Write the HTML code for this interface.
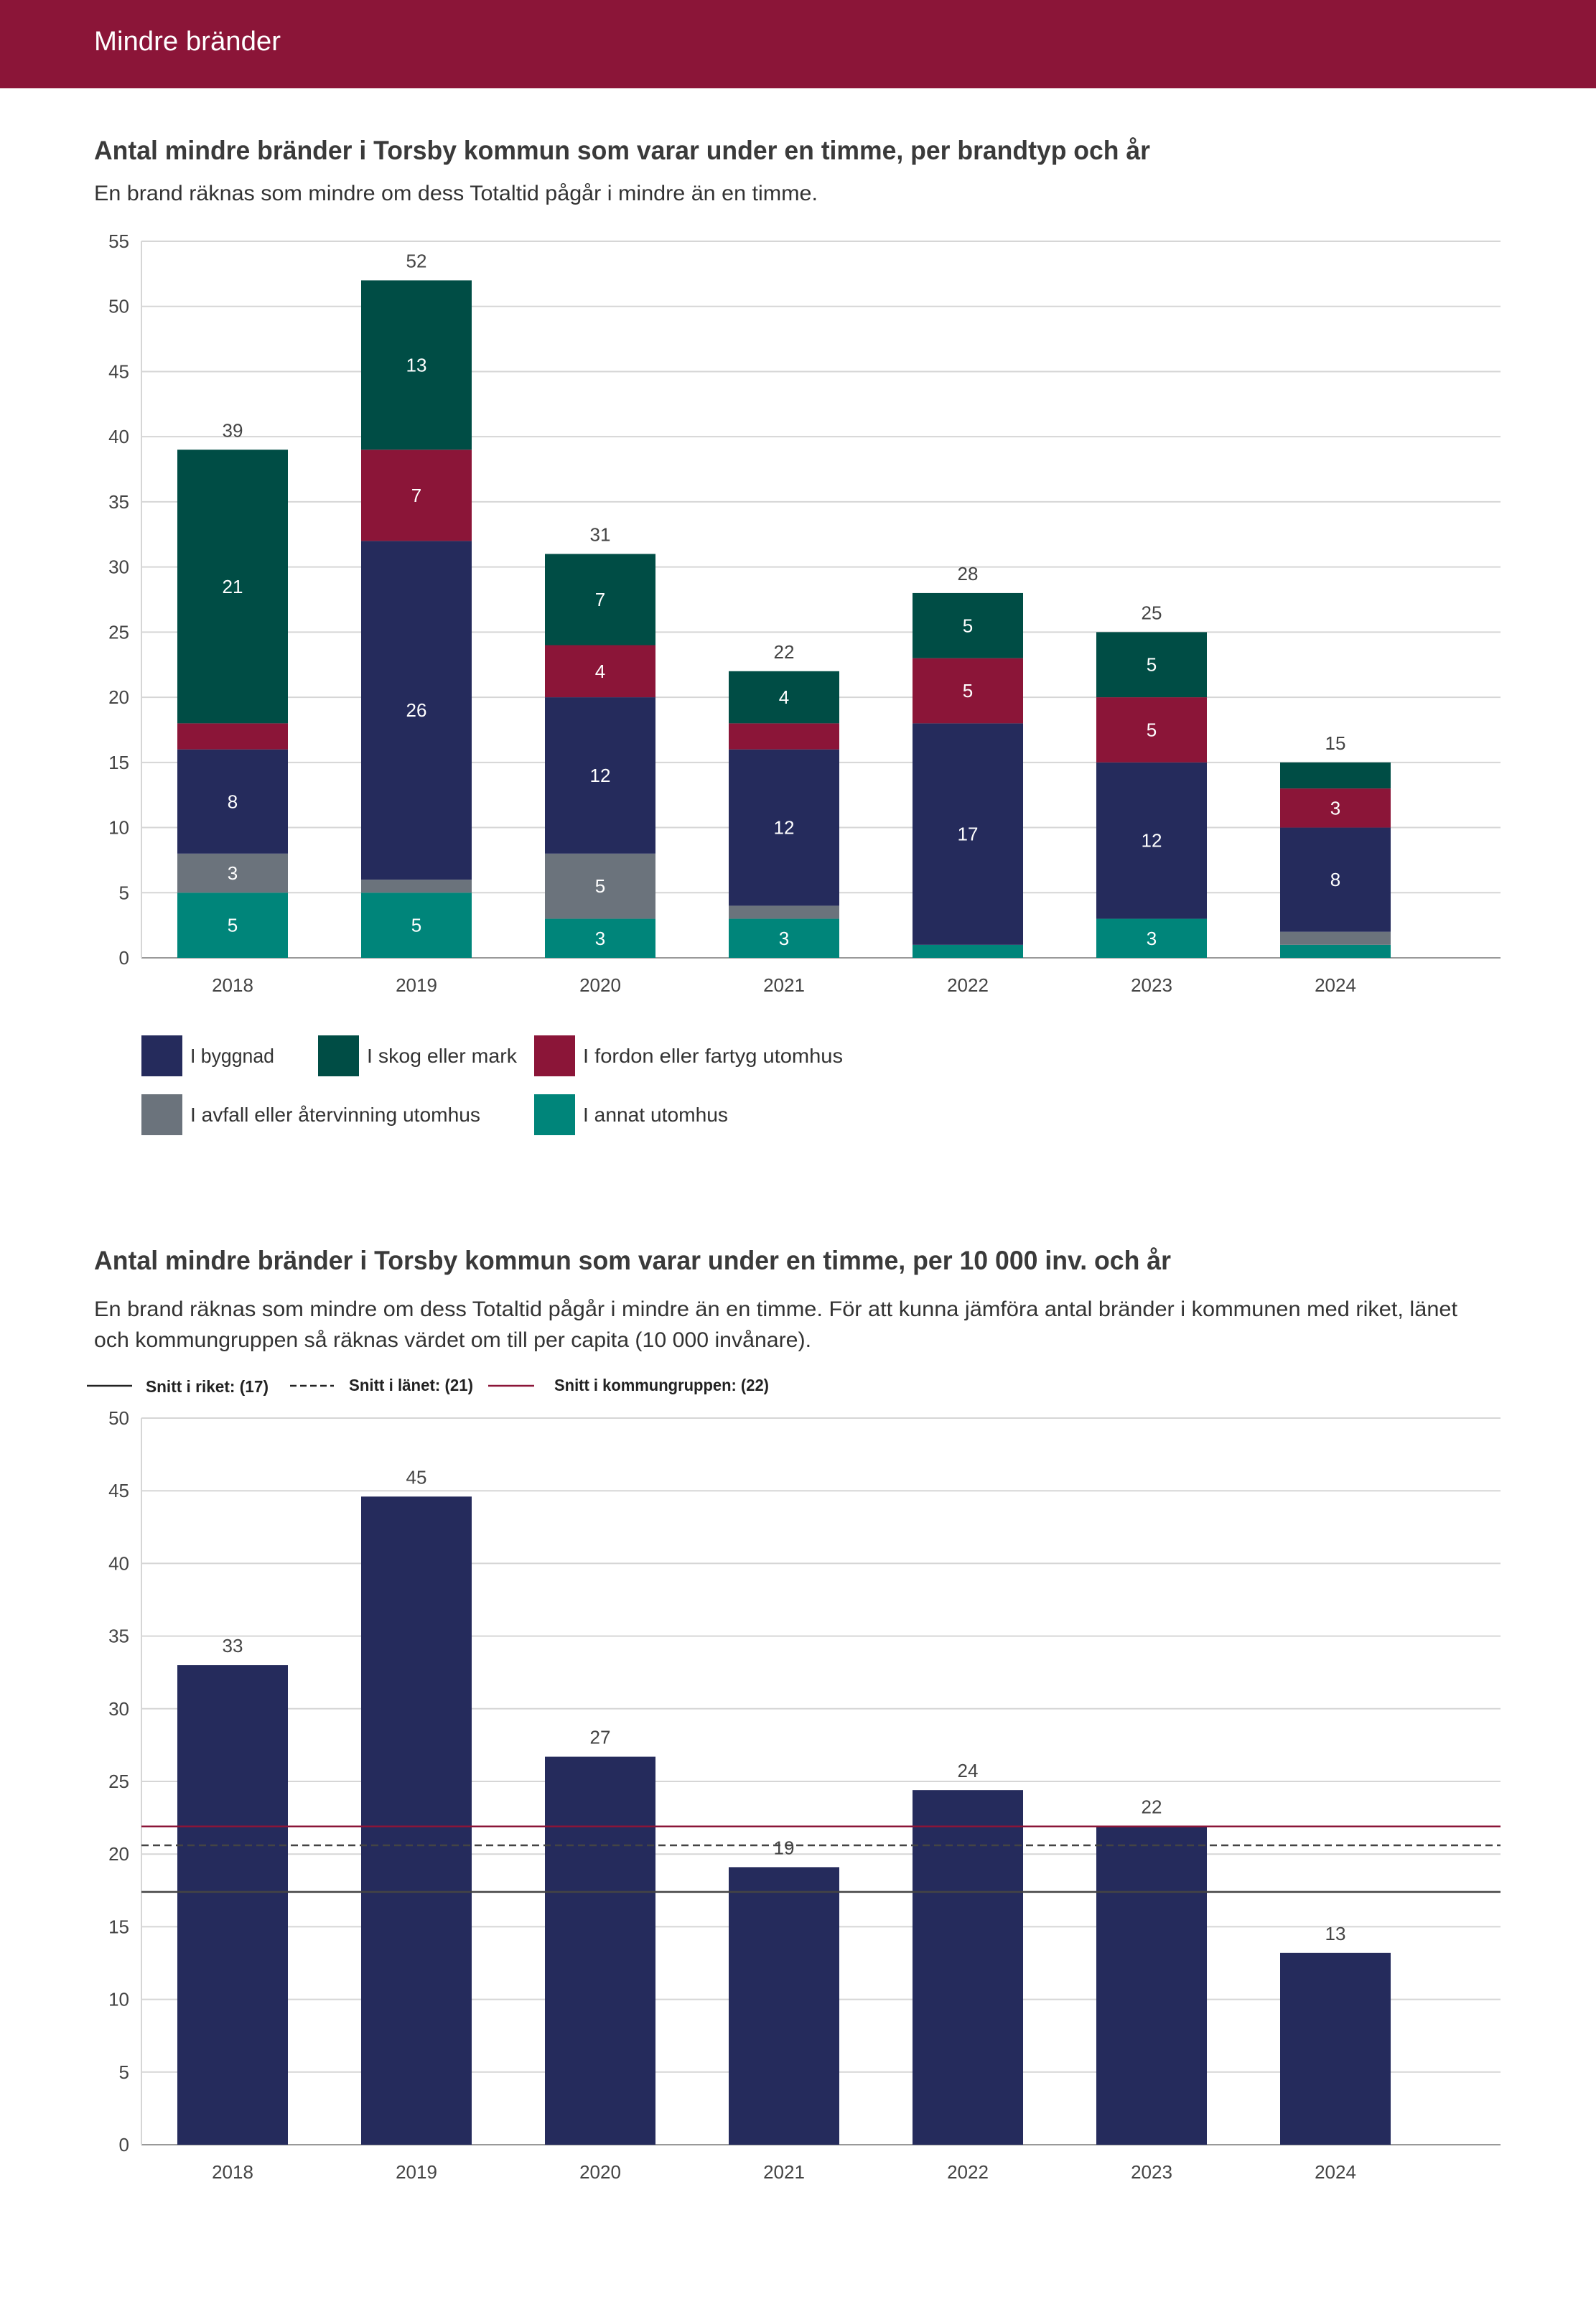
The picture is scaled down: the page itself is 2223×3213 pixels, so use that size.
<!DOCTYPE html>
<html><head><meta charset="utf-8"><style>
html,body{margin:0;padding:0;background:#fff;}
svg{display:block;font-family:"Liberation Sans",sans-serif;}
</style></head><body>
<svg id="s" width="2223" height="3213" viewBox="0 0 2223 3213" xmlns="http://www.w3.org/2000/svg">
<rect x="0" y="0" width="2223" height="123" fill="#8b1538"/>
<text x="131" y="70" font-size="38" fill="#fff" textLength="260" lengthAdjust="spacingAndGlyphs">Mindre bränder</text>
<text x="131" y="222" font-size="37" font-weight="bold" fill="#3a3a3a" textLength="1471" lengthAdjust="spacingAndGlyphs">Antal mindre bränder i Torsby kommun som varar under en timme, per brandtyp och år</text>
<text x="131" y="279" font-size="30" fill="#333" textLength="1008" lengthAdjust="spacingAndGlyphs">En brand räknas som mindre om dess Totaltid pågår i mindre än en timme.</text>
<g id="c1"></g>
<g id="l1"></g>
<text x="131" y="1768" font-size="37" font-weight="bold" fill="#3a3a3a" textLength="1500" lengthAdjust="spacingAndGlyphs">Antal mindre bränder i Torsby kommun som varar under en timme, per 10 000 inv. och år</text>
<text x="131" y="1833" font-size="30" fill="#333" textLength="1899" lengthAdjust="spacingAndGlyphs">En brand räknas som mindre om dess Totaltid pågår i mindre än en timme. För att kunna jämföra antal bränder i kommunen med riket, länet</text>
<text x="131" y="1876" font-size="30" fill="#333" textLength="999" lengthAdjust="spacingAndGlyphs">och kommungruppen så räknas värdet om till per capita (10 000 invånare).</text>
<g id="l2">
<line x1="121" y1="1930" x2="184" y2="1930" stroke="#222" stroke-width="2.5"/>
<text x="203" y="1939" font-size="23" font-weight="bold" fill="#222" textLength="171" lengthAdjust="spacingAndGlyphs">Snitt i riket: (17)</text>
<line x1="404" y1="1930" x2="465" y2="1930" stroke="#222" stroke-width="2.5" stroke-dasharray="9,5"/>
<text x="486" y="1937" font-size="23" font-weight="bold" fill="#222" textLength="173" lengthAdjust="spacingAndGlyphs">Snitt i länet: (21)</text>
<line x1="680" y1="1930" x2="744" y2="1930" stroke="#8b1538" stroke-width="2.5"/>
<text x="772" y="1937" font-size="23" font-weight="bold" fill="#222" textLength="299" lengthAdjust="spacingAndGlyphs">Snitt i kommungruppen: (22)</text>
</g>
<g id="c2"></g>
</svg>
<script>
const years = ["2018","2019","2020","2021","2022","2023","2024"];
const annat = [5,5,3,3,1,3,1];
const avfall = [3,1,5,1,0,0,1];
const byggnad = [8,26,12,12,17,12,8];
const fordon = [2,7,4,2,5,5,3];
const skog = [21,13,7,4,5,5,2];
const ticks1 = [0,5,10,15,20,25,30,35,40,45,50,55];
const perCapita = [33.0,44.6,26.7,19.1,24.4,21.9,13.2];
const perCapitaLabels = ["33","45","27","19","24","22","13"];
const ticks2 = [0,5,10,15,20,25,30,35,40,45,50];
const avgRiket = 17.4;
const avgLanet = 20.6;
const avgGrupp = 21.9;

const NS="http://www.w3.org/2000/svg";
function mk(parent,tag,attrs,txt){const e=document.createElementNS(NS,tag);for(const k in attrs)e.setAttribute(k,attrs[k]);if(txt!==undefined)e.textContent=txt;parent.appendChild(e);return e;}
const L=197,R=2090;
const xc=i=>324+i*256;
const BW=154;

// chart 1
const c1=document.getElementById('c1');
const y1=v=>1334-v*(1334-336)/55;
ticks1.forEach(t=>{
  const g=mk(c1,'line',{x1:L,x2:R,y1:y1(t),y2:y1(t),stroke:t===0?'#999':'#d6d6d6','stroke-width':2});
  
  
  const tx=mk(c1,'text',{x:180,y:y1(t)+9,'font-size':26,fill:'#444','text-anchor':'end'},String(t));
  
  
});
const ax=mk(c1,'line',{x1:L,x2:L,y1:y1(55),y2:y1(0),stroke:'#d6d6d6','stroke-width':2});


const series=[["annat",annat,"#00857a"],["avfall",avfall,"#6b737c"],["byggnad",byggnad,"#252b5c"],["fordon",fordon,"#8b1538"],["skog",skog,"#004d45"]];
years.forEach((yr,i)=>{
  let base=0;
  series.forEach(([nm,arr,col])=>{
    const v=arr[i]; if(v<=0)return;
    const r=mk(c1,'rect',{x:xc(i)-BW/2,y:y1(base+v),width:BW,height:y1(base)-y1(base+v),fill:col});
    
    
    if(v>=3){
      const t=mk(c1,'text',{x:xc(i),y:(y1(base)+y1(base+v))/2+9,'font-size':26,fill:'#fff','text-anchor':'middle'},String(v));
      
      
    }
    base+=v;
  });
  const tt=mk(c1,'text',{x:xc(i),y:y1(base)-18,'font-size':26,fill:'#444','text-anchor':'middle'},String(base));
  
  
  const xl=mk(c1,'text',{x:xc(i),y:1381,'font-size':26,fill:'#444','text-anchor':'middle'},yr);
  
  
});
// legend 1
const l1=document.getElementById('l1');
const leg=[["I byggnad","#252b5c",197,1442,117],["I skog eller mark","#004d45",443,1442,209],["I fordon eller fartyg utomhus","#8b1538",744,1442,362],["I avfall eller återvinning utomhus","#6b737c",197,1524,404],["I annat utomhus","#00857a",744,1524,202]];
leg.forEach(([lab,col,x,y,w])=>{
  const r=mk(l1,'rect',{x:x,y:y,width:57,height:57,fill:col});
  
  
  const t=mk(l1,'text',{x:x+68,y:y+38,'font-size':28,fill:'#333',textLength:w,lengthAdjust:'spacingAndGlyphs'},lab);
  
  
});

// chart 2
const c2=document.getElementById('c2');
const y2=v=>2987-v*(2987-1975)/50;
ticks2.forEach(t=>{
  const g=mk(c2,'line',{x1:L,x2:R,y1:y2(t),y2:y2(t),stroke:t===0?'#999':'#d6d6d6','stroke-width':2});
  
  
  const tx=mk(c2,'text',{x:180,y:y2(t)+9,'font-size':26,fill:'#444','text-anchor':'end'},String(t));
  
  
});
const ax2=mk(c2,'line',{x1:L,x2:L,y1:y2(50),y2:y2(0),stroke:'#d6d6d6','stroke-width':2});


years.forEach((yr,i)=>{
  const v=perCapita[i];
  const r=mk(c2,'rect',{x:xc(i)-BW/2,y:y2(v),width:BW,height:y2(0)-y2(v),fill:'#252b5c'});
  
  
  const t=mk(c2,'text',{x:xc(i),y:y2(v)-18,'font-size':26,fill:'#444','text-anchor':'middle'},perCapitaLabels[i]);
  
  
  const xl=mk(c2,'text',{x:xc(i),y:3034,'font-size':26,fill:'#444','text-anchor':'middle'},yr);
  
  
});
const a1=mk(c2,'line',{x1:L,x2:R,y1:y2(avgRiket),y2:y2(avgRiket),stroke:'#444','stroke-width':2.5});


const a2=mk(c2,'line',{x1:L,x2:R,y1:y2(avgLanet),y2:y2(avgLanet),stroke:'#444','stroke-width':2.5,'stroke-dasharray':'10,6'});


const a3=mk(c2,'line',{x1:L,x2:R,y1:y2(avgGrupp),y2:y2(avgGrupp),stroke:'#8b1538','stroke-width':2.5});


</script>
</body></html>
